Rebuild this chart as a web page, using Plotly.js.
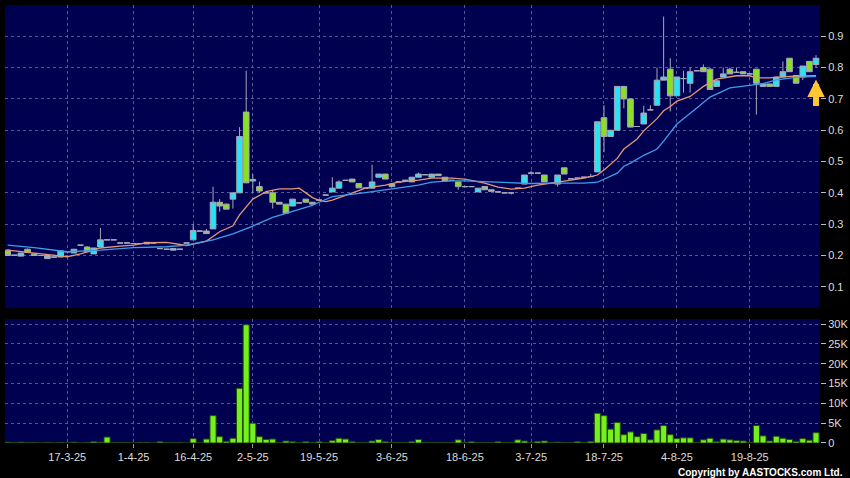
<!DOCTYPE html>
<html><head><meta charset="utf-8">
<script src="https://cdn.plot.ly/plotly-3.0.1.min.js"></script>
<style>html,body{margin:0;padding:0;background:#000;}#chart{width:850px;height:478px;}</style>
</head><body><div id="chart"></div>
<script>
const dates = ['4-3-25','5-3-25','6-3-25','7-3-25','10-3-25','11-3-25','12-3-25','13-3-25','14-3-25',
'17-3-25','18-3-25','19-3-25','20-3-25','21-3-25','25-3-25','26-3-25','27-3-25','28-3-25','31-3-25',
'1-4-25','2-4-25','3-4-25','7-4-25','8-4-25','10-4-25','11-4-25','14-4-25','15-4-25',
'16-4-25','17-4-25','22-4-25','23-4-25','24-4-25','25-4-25','28-4-25','29-4-25','30-4-25',
'2-5-25','6-5-25','7-5-25','8-5-25','9-5-25','12-5-25','13-5-25','14-5-25','15-5-25','16-5-25',
'19-5-25','20-5-25','21-5-25','22-5-25','23-5-25','26-5-25','27-5-25','28-5-25','29-5-25','30-5-25','2-6-25',
'3-6-25','4-6-25','5-6-25','6-6-25','9-6-25','10-6-25','11-6-25','12-6-25','13-6-25','16-6-25','17-6-25',
'18-6-25','19-6-25','20-6-25','23-6-25','24-6-25','25-6-25','26-6-25','27-6-25','30-6-25','2-7-25',
'3-7-25','4-7-25','7-7-25','8-7-25','9-7-25','10-7-25','11-7-25','14-7-25','15-7-25','16-7-25','17-7-25',
'18-7-25','21-7-25','22-7-25','23-7-25','24-7-25','25-7-25','28-7-25','29-7-25','30-7-25','31-7-25','1-8-25',
'4-8-25','5-8-25','6-8-25','7-8-25','8-8-25','11-8-25','12-8-25','13-8-25','14-8-25','15-8-25','18-8-25',
'19-8-25','20-8-25','21-8-25','22-8-25','25-8-25','26-8-25','27-8-25','28-8-25','29-8-25','1-9-25','2-9-25'];

const openP = [.217,.201,.198,.22,.205,.2,.19,.195,.195,.212,
.208,.233,.227,.205,.227,.25,.25,.24,.24,.238,
.238,.237,.24,.222,.22,.217,.22,.24,.25,.278,
.278,.285,.37,.364,.38,.4,.658,.438,.42,.4,
.4,.37,.364,.358,.368,.38,.37,.377,.393,.403,
.415,.44,.444,.43,.415,.415,.45,.46,.428,.435,
.44,.435,.45,.458,.45,.46,.45,.44,.435,.42,
.42,.403,.42,.41,.403,.4,.4,.415,.428,.463,
.463,.457,.43,.428,.48,.445,.447,.45,.452,.467,
.64,.58,.6,.74,.7,.612,.62,.665,.68,.76,
.795,.71,.765,.75,.79,.8,.795,.74,.77,.795,
.785,.787,.78,.795,.74,.748,.74,.77,.83,.775,
.77,.82,.81];
const highP = [.22,.201,.208,.222,.205,.2,.2,.195,.215,.212,
.22,.233,.23,.224,.288,.25,.25,.24,.24,.238,
.238,.242,.24,.222,.22,.222,.22,.24,.30,.278,
.285,.42,.38,.366,.4,.61,.79,.46,.436,.4,
.41,.37,.364,.38,.368,.38,.37,.377,.393,.45,
.44,.44,.444,.43,.415,.49,.46,.46,.43,.435,
.44,.45,.465,.458,.46,.46,.45,.44,.435,.42,
.42,.415,.42,.41,.403,.4,.4,.415,.457,.47,
.463,.457,.43,.457,.48,.445,.447,.45,.46,.627,
.68,.6,.74,.74,.7,.612,.678,.68,.8,.963,
.83,.77,.79,.8,.79,.81,.8,.758,.8,.8,
.8,.787,.78,.795,.748,.748,.77,.82,.83,.775,
.805,.82,.84];
const lowP = [.2,.201,.198,.21,.2,.2,.19,.195,.195,.212,
.208,.233,.212,.205,.227,.25,.25,.24,.24,.238,
.238,.237,.24,.222,.22,.217,.22,.24,.25,.278,
.27,.285,.34,.348,.35,.4,.432,.4,.4,.4,
.35,.364,.335,.358,.368,.37,.364,.377,.393,.403,
.415,.44,.435,.416,.415,.415,.45,.444,.42,.435,
.44,.435,.45,.458,.45,.455,.438,.44,.41,.42,
.42,.403,.41,.405,.403,.4,.395,.415,.428,.463,
.463,.435,.43,.42,.46,.445,.447,.45,.452,.467,
.53,.58,.6,.67,.61,.612,.62,.665,.68,.76,
.66,.71,.72,.72,.79,.787,.73,.74,.77,.78,
.785,.78,.78,.65,.74,.74,.74,.77,.787,.75,
.76,.787,.8];
const closeP = [.2,.201,.208,.21,.2,.2,.2,.195,.215,.212,
.22,.233,.212,.224,.25,.25,.25,.24,.24,.238,
.238,.242,.24,.222,.22,.222,.22,.24,.28,.278,
.27,.37,.358,.348,.4,.58,.432,.443,.406,.4,
.37,.364,.335,.38,.368,.37,.364,.377,.393,.415,
.435,.44,.435,.416,.415,.435,.46,.444,.42,.435,
.44,.45,.46,.458,.46,.455,.438,.44,.42,.42,
.42,.415,.41,.405,.403,.4,.4,.415,.457,.463,
.463,.435,.43,.457,.46,.445,.447,.45,.452,.627,
.58,.6,.74,.7,.61,.612,.655,.665,.76,.77,
.71,.77,.765,.787,.79,.787,.73,.758,.78,.78,
.785,.78,.78,.75,.748,.74,.77,.787,.787,.75,
.805,.787,.83];

const volK = [0.2,0.05,0.2,0.1,0.1,0,0.1,0,0.1,0,
0.2,0,0.1,0.3,0.2,1.5,0.1,0.1,0.1,0,
0.1,0.1,0,0.3,0.1,0.1,0.1,0,1.1,0,
1.0,6.9,1.6,0.4,1.2,13.8,29.8,5.0,1.6,0.9,
1.0,0.1,0.5,0.3,0.1,0.3,0.1,0.3,0.1,0.6,
1.2,1.0,0.3,0.1,0.1,0.5,0.9,0.3,0.1,0.1,
0.1,0.3,0.9,0.1,0.1,0.1,0.1,0.1,0.8,0.1,
0.3,0.1,0.1,0.1,0.3,0.1,0.1,0.8,0.5,0.1,
0.4,0.5,0.1,0.2,0.1,0.1,0.3,0.1,0.4,7.5,
6.9,3.5,5.2,2.1,2.8,1.6,2.4,0.8,3.3,4.4,
2.1,1.1,1.3,1.3,0.1,0.8,1.2,0.3,1.0,0.8,
0.6,0.5,0.1,4.4,1.8,0.5,1.7,1.2,0.9,0.4,
1.1,0.7,2.6];

const ma10Idx = [0,4,9,11,14,17,19,21,24,27,30,32,34,35,37,39,41,43,44,45,46,47,48,49,52,54,57,59,62,64,67,69,72,74,76,78,80,82,84,87,89,90,92,93,95,96,98,99,100,101,103,105,107,110,112,113,115,118,122];
const ma10 = [0.217,0.208,0.196,0.205,0.224,0.23,0.233,0.241,0.242,0.232,0.246,0.276,0.295,0.33,0.38,0.404,0.413,0.413,0.415,0.40,0.385,0.376,0.372,0.377,0.401,0.415,0.425,0.434,0.441,0.447,0.447,0.444,0.431,0.418,0.412,0.415,0.425,0.431,0.436,0.447,0.457,0.473,0.51,0.54,0.572,0.598,0.637,0.662,0.676,0.693,0.708,0.74,0.763,0.774,0.774,0.767,0.767,0.772,0.774];
const ma20Idx = [0,4,9,14,19,24,27,31,34,37,40,43,46,47,49,54,59,62,64,67,69,72,74,77,79,82,84,87,89,90,92,93,94,96,98,99,101,104,106,109,112,114,116,119,122];
const ma20 = [0.233,0.225,0.212,0.217,0.225,0.228,0.233,0.25,0.269,0.294,0.322,0.34,0.36,0.37,0.388,0.401,0.415,0.425,0.434,0.438,0.438,0.436,0.433,0.431,0.43,0.431,0.431,0.431,0.434,0.444,0.463,0.485,0.495,0.52,0.54,0.565,0.62,0.671,0.706,0.735,0.742,0.749,0.761,0.769,0.772];

const tickDates = ['17-3-25','1-4-25','16-4-25','2-5-25','19-5-25','3-6-25','18-6-25','3-7-25','18-7-25','4-8-25','19-8-25'];
const priceTicks = [0.1,0.2,0.3,0.4,0.5,0.6,0.7,0.8,0.9];
const priceTickText = ['0.1','0.2','0.3','0.4','0.5','0.6','0.7','0.8','0.9'];
const volTicks = [0,5,10,15,20,25,30];
const volTickText = ['0','5K','10K','15K','20K','25K','30K'];

const gridCol = '#55559a';
const tickFont = {family:'Liberation Sans, Arial, sans-serif', size:11, color:'#dcdcdc'};

const traces = [
  {type:'candlestick', x:dates, open:openP, high:highP, low:lowP, close:closeP,
   xaxis:'x', yaxis:'y', whiskerwidth:0,
   increasing:{line:{color:'#a8a8b8', width:1}, fillcolor:'#26e4f4'},
   decreasing:{line:{color:'#a8a8b8', width:1}, fillcolor:'#86e21e'},
   hoverinfo:'skip'},
  {type:'scatter', mode:'lines', x:ma10Idx.map(i=>dates[i]), y:ma10, xaxis:'x', yaxis:'y',
   line:{color:'#e4967a', width:1.3}, hoverinfo:'skip'},
  {type:'scatter', mode:'lines', x:ma20Idx.map(i=>dates[i]), y:ma20, xaxis:'x', yaxis:'y',
   line:{color:'#3d9ee8', width:1.3}, hoverinfo:'skip'},
  {type:'bar', x:dates, y:volK, xaxis:'x', yaxis:'y2',
   marker:{color:'#74f01e', line:{color:'#244a08', width:1}}, hoverinfo:'skip'}
];

const layout = {
  width:850, height:478,
  paper_bgcolor:'#000000', plot_bgcolor:'#000050',
  margin:{l:5, r:30, t:5, b:35},
  showlegend:false, hovermode:false,
  boxgap:0.15, boxgroupgap:0, bargap:0.08,
  xaxis:{type:'category', categoryorder:'array', categoryarray:dates,
    range:[-0.4,122.6], anchor:'y2', rangeslider:{visible:false},
    tickmode:'array', tickvals:tickDates, ticktext:tickDates,
    showgrid:true, gridcolor:gridCol, griddash:'3px,3px', gridwidth:1,
    ticks:'outside', ticklen:4, tickcolor:'#9a9a9a', tickfont:tickFont,
    ticklabelstandoff:0, zeroline:false, showline:false},
  yaxis:{domain:[0.308,1], range:[0.032,1.0], side:'right', anchor:'x',
    tickmode:'array', tickvals:priceTicks, ticktext:priceTickText,
    showgrid:true, gridcolor:gridCol, griddash:'3px,3px', gridwidth:1,
    ticks:'outside', ticklen:5, tickcolor:'#bbbbbb', tickfont:tickFont,
    zeroline:false, showline:false},
  yaxis2:{domain:[0,0.283], range:[0,31.25], side:'right', anchor:'x',
    tickmode:'array', tickvals:volTicks, ticktext:volTickText,
    showgrid:true, gridcolor:gridCol, griddash:'3px,3px', gridwidth:1,
    ticks:'outside', ticklen:5, tickcolor:'#bbbbbb', tickfont:tickFont,
    zeroline:false, showline:false},
  annotations:[
    {xref:'x', yref:'y', x:dates[dates.length-1], y:0.762, ax:0, ay:28,
     showarrow:true, arrowhead:2, arrowsize:0.58, arrowwidth:6, arrowcolor:'#ffc830', text:''},
    {xref:'paper', yref:'paper', x:1.0307, y:-0.067, xanchor:'right', yanchor:'middle',
     showarrow:false, text:'<b>Copyright by AASTOCKS.com Ltd.</b>',
     font:{family:'Liberation Sans, Arial, sans-serif', size:10, color:'#ffffff'}}
  ]
};

Plotly.newPlot('chart', traces, layout, {displayModeBar:false, staticPlot:true});
</script>
</body></html>
